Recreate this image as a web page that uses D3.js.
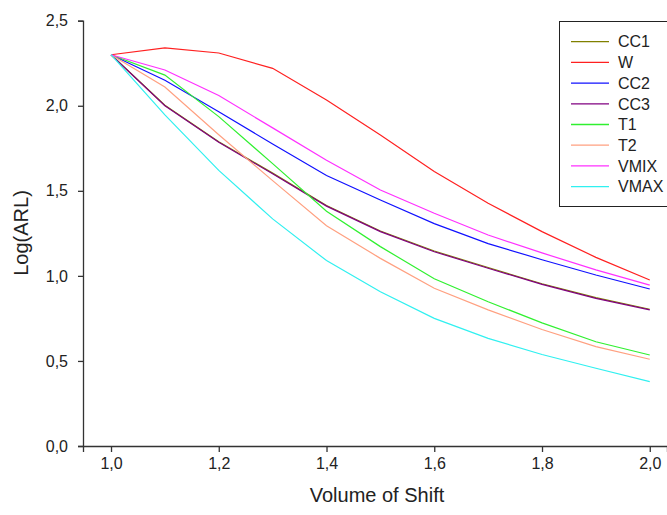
<!DOCTYPE html>
<html>
<head>
<meta charset="utf-8">
<script src="https://cdn.jsdelivr.net/npm/d3@7/dist/d3.min.js"></script>
<style>
  html, body { margin: 0; padding: 0; background: #fff; }
  svg { display: block; font-family: "Liberation Sans", Arial, sans-serif; }
</style>
</head>
<body>
<svg id="chart" width="667" height="515"></svg>
<script>
// Shift volumes (x) and log(ARL) for each chart
const shifts = [1.0, 1.1, 1.2, 1.3, 1.4, 1.5, 1.6, 1.7, 1.8, 1.9, 2.0];
const cc1  = [2.30, 2.003, 1.789, 1.604, 1.414, 1.264, 1.146, 1.049, 0.954, 0.872, 0.804];
const w    = [2.30, 2.34, 2.31, 2.22, 2.034, 1.828, 1.613, 1.427, 1.26, 1.109, 0.976];
const cc2  = [2.30, 2.15, 1.965, 1.775, 1.59, 1.446, 1.307, 1.19, 1.095, 1.005, 0.923];
const cc3  = [2.30, 2.00, 1.785, 1.60, 1.41, 1.26, 1.142, 1.045, 0.95, 0.868, 0.80];
const t1   = [2.30, 2.18, 1.936, 1.66, 1.38, 1.172, 0.983, 0.848, 0.724, 0.613, 0.535];
const t2   = [2.30, 2.11, 1.83, 1.56, 1.295, 1.103, 0.927, 0.80, 0.685, 0.584, 0.51];
const vmix = [2.30, 2.21, 2.06, 1.87, 1.68, 1.505, 1.368, 1.24, 1.135, 1.035, 0.946];
const vmax = [2.30, 1.946, 1.62, 1.335, 1.09, 0.907, 0.75, 0.633, 0.538, 0.457, 0.378];

const seriesNames = ["CC1", "W", "CC2", "CC3", "T1", "T2", "VMIX", "VMAX"];
const seriesValues = [cc1, w, cc2, cc3, t1, t2, vmix, vmax];
const seriesColors = ["#808000", "#ff2020", "#1010ff", "#800080", "#30f030", "#ffa080", "#ff30ff", "#30f0f0"];

const xTicks = [1.0, 1.2, 1.4, 1.6, 1.8, 2.0];
const yTicks = [0.0, 0.5, 1.0, 1.5, 2.0, 2.5];

const svg = d3.select("#chart");

const x = d3.scaleLinear().domain([0.948, 2.032]).range([83, 667]);
const y = d3.scaleLinear().domain([0, 2.5]).range([446, 20.7]);

const locale = d3.formatLocale({ decimal: ",", thousands: ".", grouping: [3], currency: ["", ""] });
const fmt = locale.format(".1f");

// Axes
const xAxis = svg.append("g")
  .attr("transform", `translate(0,${y(0)})`)
  .call(d3.axisBottom(x).tickValues(xTicks).tickFormat(fmt).tickSizeOuter(0).tickSize(6).tickPadding(6));
const yAxis = svg.append("g")
  .attr("transform", `translate(${x.range()[0]},0)`)
  .call(d3.axisLeft(y).tickValues(yTicks).tickFormat(fmt).tickSizeOuter(0).tickSize(5).tickPadding(10));

[xAxis, yAxis].forEach(g => {
  g.selectAll(".domain").attr("stroke", "#333").attr("stroke-width", 1.3);
  g.selectAll(".tick line").attr("stroke", "#333").attr("stroke-width", 1.3);
  g.selectAll(".tick text").attr("fill", "#222").style("font-size", "16px")
    .style("font-family", "'Liberation Sans', Arial, sans-serif");
});

// Axis titles
svg.append("text")
  .attr("x", 377).attr("y", 502)
  .attr("text-anchor", "middle")
  .attr("fill", "#222")
  .style("font-size", "20px")
  .text("Volume of Shift");

svg.append("text")
  .attr("transform", "translate(28,233) rotate(-90)")
  .attr("text-anchor", "middle")
  .attr("fill", "#222")
  .style("font-size", "20px")
  .text("Log(ARL)");

// Series lines
const line = d3.line()
  .x((d, i) => x(shifts[i]))
  .y(d => y(d));

svg.append("g").selectAll("path")
  .data(seriesValues)
  .join("path")
  .attr("d", line)
  .attr("fill", "none")
  .attr("stroke", (d, i) => seriesColors[i])
  .attr("stroke-width", 1.2);

// Legend
const legend = svg.append("g");
legend.append("rect")
  .attr("x", 559.5).attr("y", 21.5)
  .attr("width", 120).attr("height", 185)
  .attr("fill", "#fff")
  .attr("stroke", "#222").attr("stroke-width", 1);

const rows = legend.selectAll("g.row")
  .data(seriesNames)
  .join("g")
  .attr("class", "row")
  .attr("transform", (d, i) => `translate(0,${41.7 + i * 20.7})`);

rows.append("line")
  .attr("x1", 571).attr("x2", 609)
  .attr("y1", 0).attr("y2", 0)
  .attr("stroke", (d, i) => seriesColors[i])
  .attr("stroke-width", 1.3);

rows.append("text")
  .attr("x", 618).attr("y", 0)
  .attr("dy", "0.36em")
  .attr("fill", "#222")
  .style("font-size", "16px")
  .text(d => d);
</script>
</body>
</html>
